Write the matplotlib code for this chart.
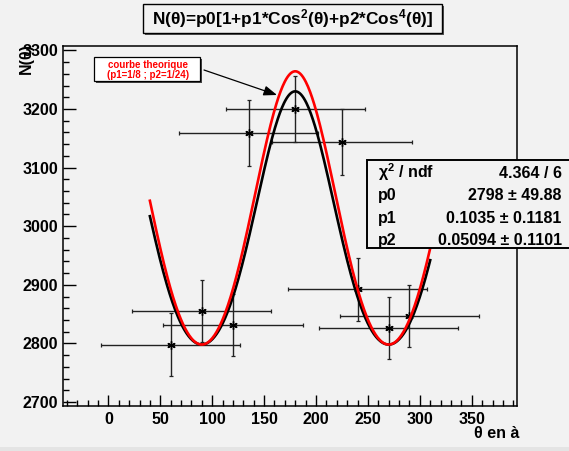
import matplotlib.pyplot as plt
import numpy as np
from matplotlib.patches import Rectangle
from matplotlib.ticker import MultipleLocator

plt.rcParams['font.family'] = ['Liberation Sans', 'DejaVu Sans']
plt.rcParams['font.weight'] = 'bold'
plt.rcParams['mathtext.fontset'] = 'custom'
plt.rcParams['mathtext.rm'] = 'Liberation Sans:bold'
plt.rcParams['mathtext.it'] = 'Liberation Sans:bold'
plt.rcParams['mathtext.bf'] = 'Liberation Sans:bold'
plt.rcParams['mathtext.default'] = 'rm'

# measured points (angle in degrees, counts)
theta = [60, 90, 120, 135, 180, 225, 240, 270, 290]
counts = [2798, 2855, 2831, 3159, 3200, 3144, 2892, 2826, 2847]
theta_err = [67, 67, 67, 67, 67, 67, 67, 67, 67]
counts_err = [53, 53, 53, 56, 57, 56, 54, 53, 53]

# fit result and theoretical curve
p0_fit, p1_fit, p2_fit = 2798, 0.1035, 0.05094
p0_th, p1_th, p2_th = 2798, 1 / 8, 1 / 24
curve_range = (40, 310)

stats_names = [r"$\chi^{2}$ / ndf", "p0", "p1", "p2"]
stats_values = ["4.364 / 6", "2798 ± 49.88", "0.1035 ± 0.1181", "0.05094 ± 0.1101"]

bg = "#f2f2f2"
W, H = 569, 451


def N(t, p0, p1, p2):
    c = np.cos(np.radians(t))
    return p0 * (1 + p1 * c**2 + p2 * c**4)


def fx(px):
    return px / W


def fy(py):
    return 1 - py / H


fig = plt.figure(figsize=(W / 100, H / 100), dpi=100, facecolor=bg)
ax = fig.add_axes([fx(63.4), fy(405.5), fx(516.7) - fx(63.4), fy(45.7) - fy(405.5)])
ax.set_facecolor(bg)

fig.patches.append(Rectangle((0, 0), 1, fy(446.7), transform=fig.transFigure,
                             facecolor="#e4e4e4", edgecolor="none", zorder=0))

ax.errorbar(theta, counts, xerr=theta_err, yerr=counts_err, fmt="none",
            ecolor="#222222", elinewidth=1.0, capsize=1.2, capthick=0.9, zorder=3)
ax.plot(theta, counts, linestyle="none", marker=(6, 2, 0), markersize=6,
        color="black", markeredgewidth=1.0, zorder=4)

tt = np.linspace(curve_range[0], curve_range[1], 400)
ax.plot(tt, N(tt, p0_fit, p1_fit, p2_fit), color="black", lw=1.9, zorder=5)
ax.plot(tt, N(tt, p0_th, p1_th, p2_th), color="red", lw=1.9, zorder=6)

ax.set_xlim(-43.3, 393.3)
ax.set_ylim(2694, 3308)
ax.xaxis.set_major_locator(MultipleLocator(50))
ax.xaxis.set_minor_locator(MultipleLocator(10))
ax.yaxis.set_major_locator(MultipleLocator(100))
ax.yaxis.set_minor_locator(MultipleLocator(20))
ax.tick_params(which="both", direction="in", top=False, right=False,
               labelsize=11.5, width=1.0, color="black")
ax.tick_params(which="major", length=9, pad=4)
ax.tick_params(which="minor", length=4.5)
ax.tick_params(axis="x", which="major", length=8, pad=5)
for lab in ax.get_xticklabels() + ax.get_yticklabels():
    lab.set_fontweight("bold")
for s in ax.spines.values():
    s.set_linewidth(1.1)

# axis titles
fig.text(fx(26), fy(43), "N(θ)", rotation=90, ha="center", va="top",
         fontsize=11.5, fontweight="bold")
fig.text(fx(519), fy(437.7), "θ en à", ha="right", va="baseline",
         fontsize=11.5, fontweight="bold")

# title box with shadow
tx0, tx1, ty0, ty1 = 143.3, 441.7, 4, 32.7
fig.patches.append(Rectangle((fx(tx0 + 2), fy(ty1 + 2)), fx(tx1) - fx(tx0), fy(ty0) - fy(ty1),
                             transform=fig.transFigure, facecolor="#555555",
                             edgecolor="none", zorder=1))
fig.patches.append(Rectangle((fx(tx0), fy(ty1)), fx(tx1) - fx(tx0), fy(ty0) - fy(ty1),
                             transform=fig.transFigure, facecolor=bg,
                             edgecolor="black", lw=1.0, zorder=2))
fig.text(fx(292.4), fy(18.6), r"N(θ)=p0[1+p1*Cos$^{2}$(θ)+p2*Cos$^{4}$(θ)]",
         ha="center", va="center", fontsize=12.4, fontweight="bold", zorder=3)

# annotation box
bx0, bx1, by0, by1 = 94, 200, 57.3, 80.7
fig.patches.append(Rectangle((fx(bx0 + 2), fy(by1 + 2)), fx(bx1) - fx(bx0), fy(by0) - fy(by1),
                             transform=fig.transFigure, facecolor="#444444",
                             edgecolor="none", zorder=7))
fig.patches.append(Rectangle((fx(bx0), fy(by1)), fx(bx1) - fx(bx0), fy(by0) - fy(by1),
                             transform=fig.transFigure, facecolor="white",
                             edgecolor="black", lw=0.9, zorder=8))
fig.text(fx(148.3), fy(68.3), "courbe theorique", ha="center", va="baseline",
         fontsize=7, fontweight="bold", color="red", zorder=9)
fig.text(fx(148.3), fy(78.3), "(p1=1/8 ; p2=1/24)", ha="center", va="baseline",
         fontsize=7, fontweight="bold", color="red", zorder=9)
ax.annotate("", xy=(fx(277), fy(95)), xycoords="figure fraction",
            xytext=(fx(204), fy(70)), textcoords="figure fraction",
            arrowprops=dict(arrowstyle="-|>,head_length=0.8,head_width=0.3",
                            color="black", lw=0.9, shrinkA=0, shrinkB=0),
            zorder=9)

# stats box
sx0, sx1, sy0, sy1 = 367.3, 580, 160, 247.8
fig.patches.append(Rectangle((fx(sx0), fy(sy1)), fx(sx1) - fx(sx0), fy(sy0) - fy(sy1),
                             transform=fig.transFigure, facecolor=bg,
                             edgecolor="black", lw=1.4, zorder=10))
for i, (name, val) in enumerate(zip(stats_names, stats_values)):
    yb = 177.7 + i * 22.45
    fig.text(fx(378.3), fy(yb), name, ha="left", va="baseline",
             fontsize=11.5, fontweight="bold", zorder=11)
    fig.text(fx(561.7), fy(yb), val, ha="right", va="baseline",
             fontsize=11.5, fontweight="bold", zorder=11)

fig.savefig("out.png", dpi=100, facecolor=bg)
